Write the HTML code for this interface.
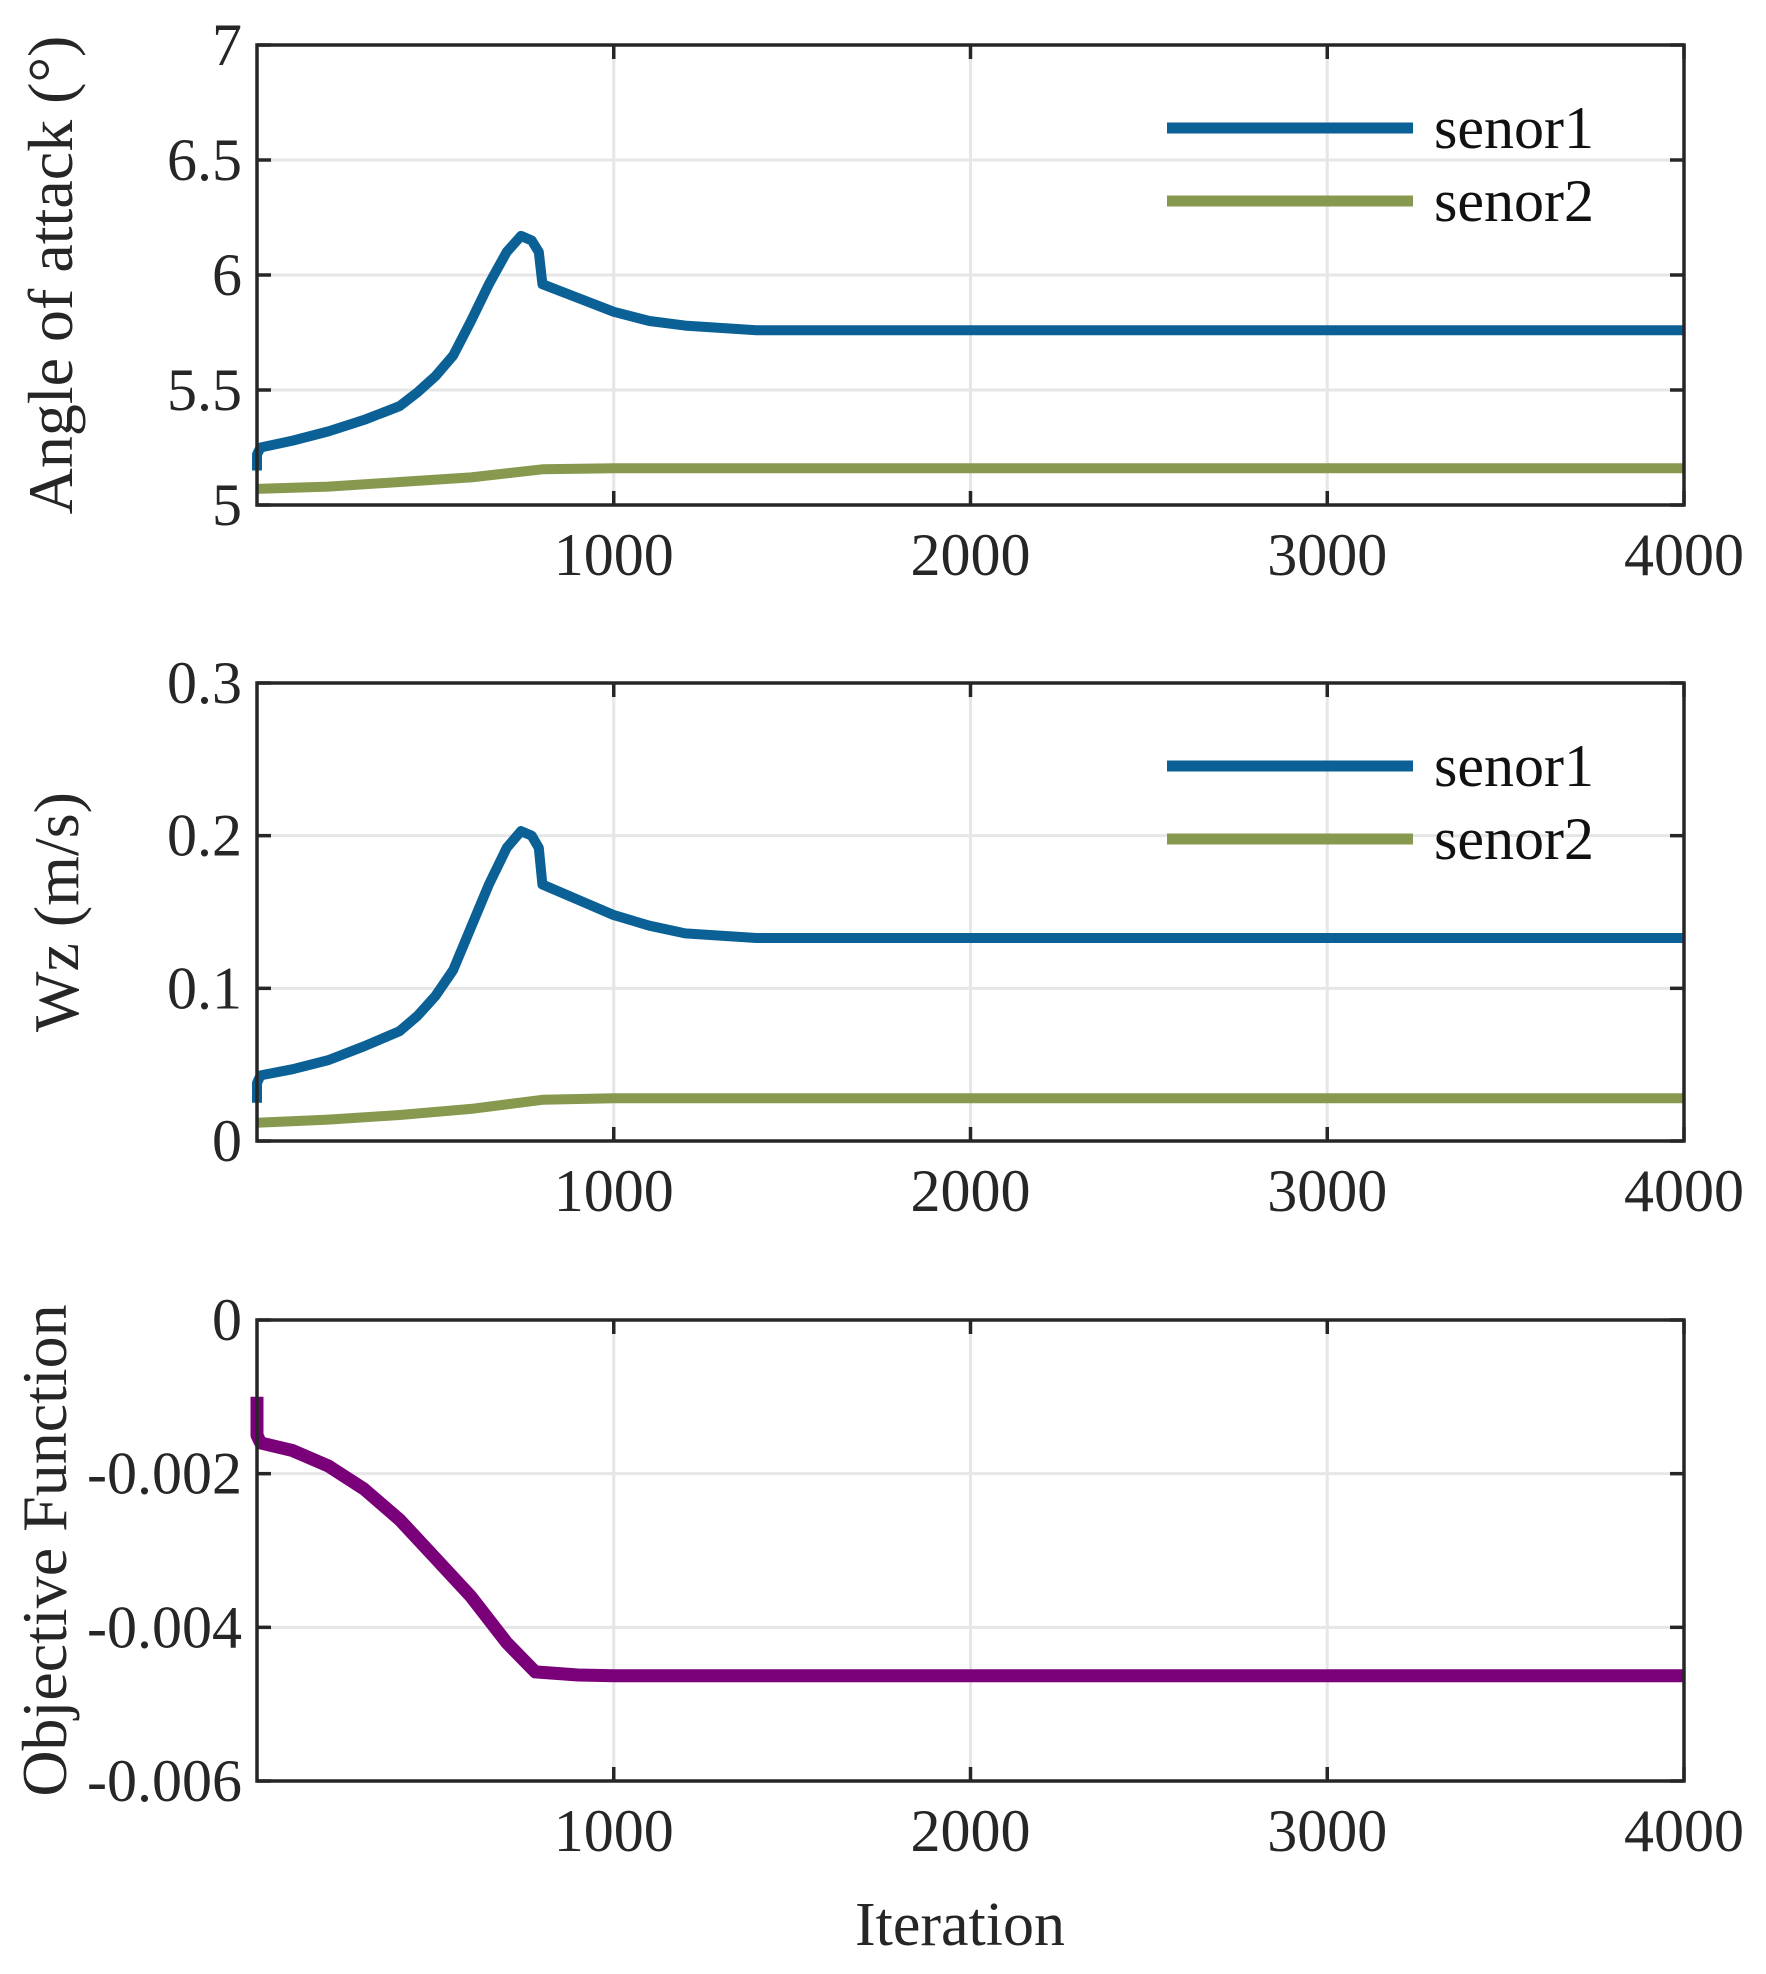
<!DOCTYPE html>
<html><head><meta charset="utf-8"><style>
html,body{margin:0;padding:0;background:#fff;}
svg{display:block;font-family:"Liberation Serif",serif;}
</style></head><body>
<svg id="fig" width="1766" height="1974" viewBox="0 0 1766 1974" xmlns="http://www.w3.org/2000/svg"></svg>
<script>
const xTicks=[1000,2000,3000,4000];
const xTickLabels=["1000","2000","3000","4000"];
// panel 1: angle of attack
const aoaIter=[0,0,10,100,200,300,400,450,500,550,600,650,700,740,770,790,800,900,1000,1100,1200,1400,4000];
const aoaSensor1=[5.15,5.22,5.25,5.28,5.32,5.37,5.43,5.49,5.56,5.65,5.8,5.96,6.1,6.17,6.15,6.1,5.96,5.9,5.84,5.8,5.78,5.76,5.76];
const aoa2Iter=[0,200,400,600,800,1000,4000];
const aoaSensor2=[5.07,5.08,5.1,5.12,5.155,5.16,5.16];
const aoaTicks=[5,5.5,6,6.5,7];
const aoaTickLabels=["5","5.5","6","6.5","7"];
// panel 2: Wz
const wzIter=[0,0,10,100,200,300,400,450,500,550,600,650,700,740,770,790,800,900,1000,1100,1200,1400,4000];
const wzSensor1=[0.025,0.038,0.043,0.047,0.053,0.062,0.072,0.082,0.095,0.112,0.14,0.168,0.192,0.203,0.2,0.192,0.168,0.158,0.148,0.141,0.136,0.133,0.133];
const wz2Iter=[0,200,400,600,800,1000,4000];
const wzSensor2=[0.012,0.014,0.017,0.021,0.027,0.028,0.028];
const wzTicks=[0,0.1,0.2,0.3];
const wzTickLabels=["0","0.1","0.2","0.3"];
// panel 3: objective
const objIter=[0,0,10,100,200,300,400,500,600,700,780,900,1000,4000];
const objValues=[-0.001,-0.0015,-0.0016,-0.0017,-0.0019,-0.0022,-0.0026,-0.0031,-0.0036,-0.0042,-0.00458,-0.00462,-0.00463,-0.00463];
const objTicks=[-0.006,-0.004,-0.002,0];
const objTickLabels=["-0.006","-0.004","-0.002","0"];

const NS="http://www.w3.org/2000/svg";
const svg=document.getElementById('fig');
function mk(tag,attrs,parent){const e=document.createElementNS(NS,tag);for(const k in attrs)e.setAttribute(k,attrs[k]);(parent||svg).appendChild(e);return e;}
const X0=257,X1=1684;
function xs(v){return X0+(v/4000)*(X1-X0);}

function panel(name,top,bot,ymin,ymax,yT,yTL,ylabel,ylabX,series,legend){
  const g=mk('g',{});
  
  
  const ys=v=>bot-(v-ymin)/(ymax-ymin)*(bot-top);
  xTicks.forEach(t=>{const l=mk('line',{x1:xs(t),x2:xs(t),y1:top,y2:bot,stroke:'#e6e6e6','stroke-width':3},g);
    });
  yT.forEach(t=>{const l=mk('line',{x1:X0,x2:X1,y1:ys(t),y2:ys(t),stroke:'#e6e6e6','stroke-width':3},g);
    });
  series.forEach(s=>{
    const d=s.x.map((v,i)=>(i?'L':'M')+xs(v).toFixed(1)+','+ys(s.y[i]).toFixed(1)).join(' ');
    const p=mk('path',{d:d,fill:'none',stroke:s.color,'stroke-width':s.w,'stroke-linejoin':'round'},g);
    
  });
  const r=mk('rect',{x:X0,y:top,width:X1-X0,height:bot-top,fill:'none',stroke:'#262626','stroke-width':3.5},g);
  
  xTicks.forEach((t,i)=>{
    mk('line',{x1:xs(t),x2:xs(t),y1:bot,y2:bot-14,stroke:'#262626','stroke-width':3.5},g);
    mk('line',{x1:xs(t),x2:xs(t),y1:top,y2:top+14,stroke:'#262626','stroke-width':3.5},g);
    const tx=mk('text',{x:xs(t),y:bot+70,'text-anchor':'middle','font-size':60,fill:'#262626'},g);
    tx.textContent=xTickLabels[i];
    
  });
  yT.forEach((t,i)=>{
    mk('line',{x1:X0,x2:X0+14,y1:ys(t),y2:ys(t),stroke:'#262626','stroke-width':3.5},g);
    mk('line',{x1:X1,x2:X1-14,y1:ys(t),y2:ys(t),stroke:'#262626','stroke-width':3.5},g);
    const tx=mk('text',{x:X0-15,y:ys(t)+20,'text-anchor':'end','font-size':60,fill:'#262626'},g);
    tx.textContent=yTL[i];
    
  });
  const yl=mk('text',{x:0,y:0,'text-anchor':'middle','font-size':64,fill:'#262626',transform:`translate(${ylabX},${(top+bot)/2}) rotate(-90)`},g);
  yl.textContent=ylabel;
  
  if(legend){
    legend.forEach((s,i)=>{
      const ly=top+83+i*73;
      const l=mk('line',{x1:1167,x2:1413,y1:ly,y2:ly,stroke:s.color,'stroke-width':11},g);
      
      const tx=mk('text',{x:1434,y:ly+20,'font-size':60,fill:'#111'},g);
      tx.textContent=s.label;
      
    });
  }
}
const BLUE='#0b6196',GREEN='#87994f',PURPLE='#7a0079';
panel('angle-of-attack',45,505,5,7,aoaTicks,aoaTickLabels,'Angle of attack (°)',72,
  [{name:'senor2-line',x:aoa2Iter,y:aoaSensor2,color:GREEN,w:10},{name:'senor1-line',x:aoaIter,y:aoaSensor1,color:BLUE,w:10}],
  [{label:'senor1',color:BLUE},{label:'senor2',color:GREEN}]);
panel('wz',683,1141,0,0.3,wzTicks,wzTickLabels,'Wz (m/s)',78,
  [{name:'senor2-line',x:wz2Iter,y:wzSensor2,color:GREEN,w:10},{name:'senor1-line',x:wzIter,y:wzSensor1,color:BLUE,w:10}],
  [{label:'senor1',color:BLUE},{label:'senor2',color:GREEN}]);
panel('objective',1320,1781,-0.006,0,objTicks,objTickLabels,'Objective Function',66,
  [{name:'objective-line',x:objIter,y:objValues,color:PURPLE,w:13}],null);
const xl=mk('text',{x:960,y:1945,'text-anchor':'middle','font-size':62,fill:'#262626'});
xl.textContent='Iteration';


</script>
</body></html>
